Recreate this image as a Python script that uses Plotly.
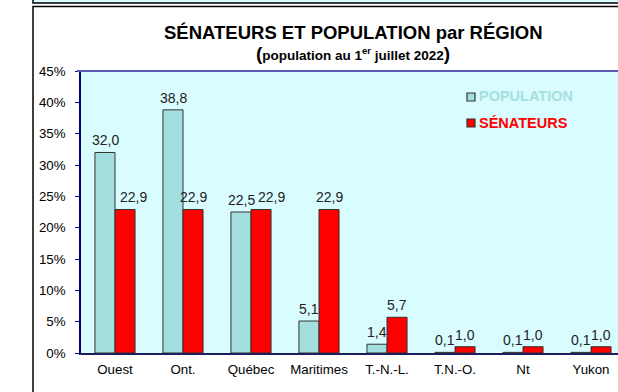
import plotly.graph_objects as go

# Data: share of Canadian population vs. share of Senate seats, by region (%)
regions = ["Ouest", "Ont.", "Québec", "Maritimes", "T.-N.-L.", "T.N.-O.", "Nt", "Yukon"]
population = [32.0, 38.8, 22.5, 5.1, 1.4, 0.1, 0.1, 0.1]
senateurs = [22.9, 22.9, 22.9, 22.9, 5.7, 1.0, 1.0, 1.0]
y_ticks = [0, 5, 10, 15, 20, 25, 30, 35, 40, 45]
y_tick_text = [f"{v}%" for v in y_ticks]

W, H = 618, 392
ML, MT, MB = 81, 71, 39
PW = W - ML            # plot width in px
PH = H - MT - MB       # plot height in px
CAT_PX = 68.0          # width of one category band in px
BAR_OFF = 10.0 / CAT_PX  # centre offset of each bar inside its group

FONT = "Arial, Liberation Sans, sans-serif"


def px_x(p):
    return (p - ML) / PW


def px_y(p):
    return (H - MB - p) / PH


def fmt(v):
    return f"{v:.1f}".replace(".", ",")


fig = go.Figure()
fig.add_trace(go.Bar(
    x=list(range(len(regions))), y=population, name="POPULATION",
    marker=dict(color="#a3dfdf", line=dict(color="#333333", width=1)),
))
fig.add_trace(go.Bar(
    x=list(range(len(regions))), y=senateurs, name="SÉNATEURS",
    marker=dict(color="#ff0000", line=dict(color="#333333", width=1)),
))

fig.update_layout(
    width=W, height=H,
    margin=dict(l=ML, r=0, t=MT, b=MB, pad=0),
    paper_bgcolor="white",
    plot_bgcolor="#d9fcfe",
    barmode="group", bargap=0.41, bargroupgap=0,
    showlegend=False,
    font=dict(family=FONT, size=13, color="#000000"),
    xaxis=dict(
        range=[-0.5, -0.5 + PW / CAT_PX],
        tickvals=list(range(len(regions))), ticktext=regions,
        showline=True, linecolor="#1e1e5a", linewidth=1.5,
        showgrid=False, zeroline=False, ticks="",
        ticklabelstandoff=3,
        tickfont=dict(size=13.3, color="#000000"),
    ),
    yaxis=dict(
        range=[0, 45], tickvals=y_ticks, ticktext=y_tick_text,
        showline=True, linecolor="#000080", linewidth=1.5,
        ticks="outside", ticklen=4, tickcolor="#000080", tickwidth=1,
        ticklabelstandoff=7,
        showgrid=False, zeroline=False,
        tickfont=dict(size=13.3, color="#000000"),
    ),
)

# value labels above each bar; a few senator labels are nudged right so
# they do not collide with the neighbouring population label
senator_nudge = {0: 8, 2: 10}
annotations = []
for i, (p, s) in enumerate(zip(population, senateurs)):
    annotations.append(dict(
        text=fmt(p), xref="x", yref="y", x=i - BAR_OFF, y=p,
        xanchor="center", yanchor="bottom", yshift=2, showarrow=False,
        font=dict(size=14, color="#222222")))
    annotations.append(dict(
        text=fmt(s), xref="x", yref="y", x=i + BAR_OFF, y=s,
        xanchor="center", yanchor="bottom", yshift=2,
        xshift=senator_nudge.get(i, 0), showarrow=False,
        font=dict(size=14, color="#222222")))

shapes = []
# top band of the outer frame
shapes.append(dict(type="rect", xref="paper", yref="paper",
                   x0=px_x(33), x1=px_x(630), y0=px_y(-5), y1=px_y(3),
                   fillcolor="#d9fcfe", line=dict(color="#000000", width=1.5)))
# outer chart frame
shapes.append(dict(type="rect", xref="paper", yref="paper",
                   x0=px_x(33), x1=px_x(630), y0=px_y(400), y1=px_y(6.5),
                   fillcolor="rgba(0,0,0,0)", line=dict(color="#000000", width=1.5)))
# top border of the plot area
shapes.append(dict(type="line", xref="paper", yref="paper",
                   x0=px_x(77), x1=px_x(630), y0=1, y1=1,
                   line=dict(color="#5a5ab4", width=2)))
# legend swatches
shapes.append(dict(type="rect", xref="paper", yref="paper",
                   x0=px_x(467), x1=px_x(475), y0=px_y(101), y1=px_y(93),
                   fillcolor="#a3dfdf", line=dict(color="#333333", width=1.2)))
shapes.append(dict(type="rect", xref="paper", yref="paper",
                   x0=px_x(467), x1=px_x(475), y0=px_y(127), y1=px_y(119),
                   fillcolor="#ff0000", line=dict(color="#333333", width=1.2)))
fig.update_layout(shapes=shapes)

annotations += [
    dict(text="<b>SÉNATEURS ET POPULATION par RÉGION</b>",
         xref="paper", yref="paper", x=px_x(353), y=px_y(33),
         xanchor="center", yanchor="middle", showarrow=False,
         font=dict(size=18.5, color="#000000")),
    dict(text="<b><span style='font-size:19px'>(</span>population au 1<sup>er</sup> juillet 2022"
              "<span style='font-size:19px'>)</span></b>",
         xref="paper", yref="paper", x=px_x(353), y=px_y(53),
         xanchor="center", yanchor="middle", showarrow=False,
         font=dict(size=13.5, color="#000000")),
    dict(text="<b>POPULATION</b>", xref="paper", yref="paper",
         x=px_x(477), y=px_y(96), xanchor="left", yanchor="middle", showarrow=False,
         font=dict(size=14.5, color="#a6e0e0")),
    dict(text="<b>SÉNATEURS</b>", xref="paper", yref="paper",
         x=px_x(477), y=px_y(123), xanchor="left", yanchor="middle", showarrow=False,
         font=dict(size=14.5, color="#ff0000")),
]
fig.update_layout(annotations=annotations)

fig.write_html("out.html")
